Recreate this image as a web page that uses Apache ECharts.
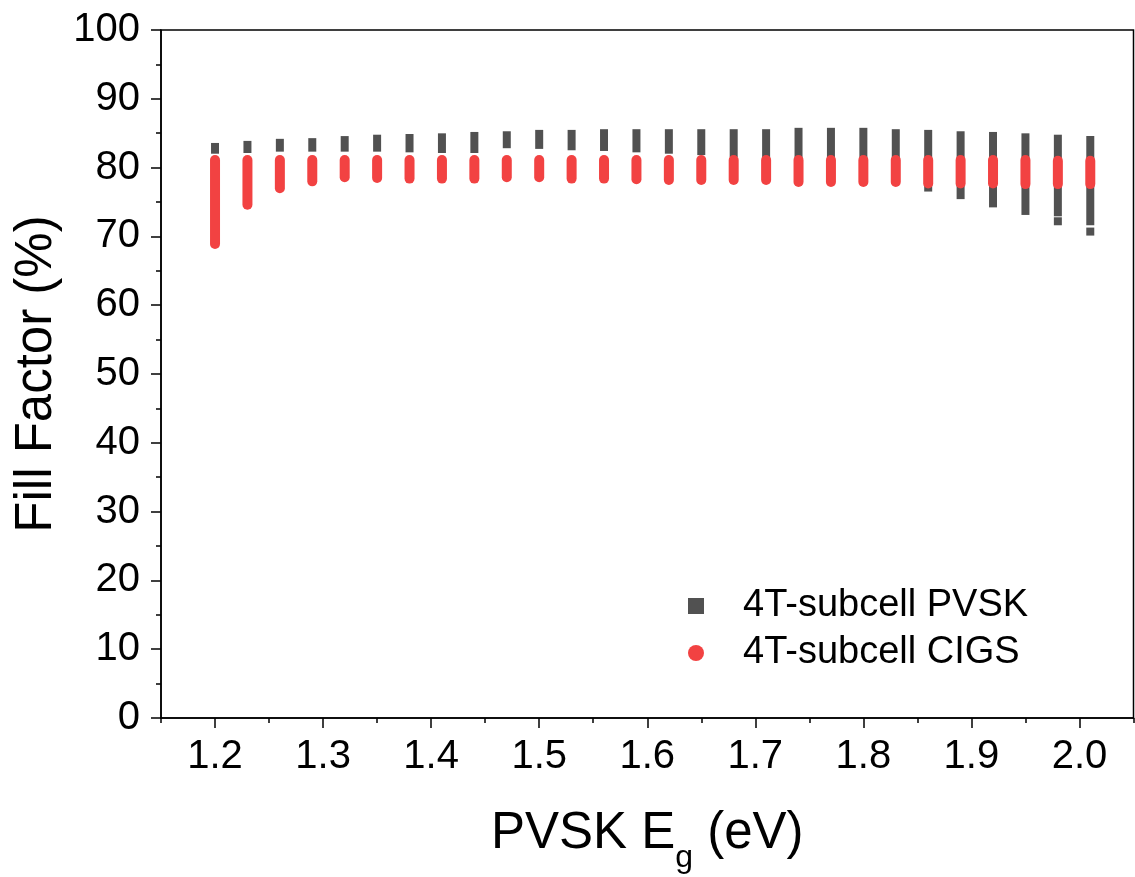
<!DOCTYPE html>
<html>
<head>
<meta charset="utf-8">
<title>Fill Factor vs PVSK Eg</title>
<script src="https://cdn.jsdelivr.net/npm/echarts@6/dist/echarts.min.js"></script>
<style>
  html, body { margin: 0; padding: 0; background: #ffffff; }
  #chart { width: 1135px; height: 877px; }
</style>
</head>
<body>
<div id="chart"></div>
<script>
// Perovskite band gap (eV) of each simulated device column
const bandgaps = [1.20, 1.23, 1.26, 1.29, 1.32, 1.35, 1.38, 1.41, 1.44, 1.47,
                  1.50, 1.53, 1.56, 1.59, 1.62, 1.65, 1.68, 1.71, 1.74, 1.77,
                  1.80, 1.83, 1.86, 1.89, 1.92, 1.95, 1.98, 2.01];

// 4T perovskite subcell fill factor spread (%), highest and lowest point per column
const pvskHigh = [83.0, 83.3, 83.6, 83.7, 84.0, 84.2, 84.3, 84.4, 84.6, 84.7,
                  84.9, 84.9, 85.0, 85.0, 85.0, 85.0, 85.0, 85.0, 85.2, 85.2,
                  85.2, 85.0, 84.9, 84.7, 84.6, 84.4, 84.2, 84.0];
const pvskLow  = [82.6, 82.7, 82.9, 82.9, 82.9, 82.9, 82.8, 82.7, 82.7, 83.4,
                  83.3, 83.1, 83.0, 82.8, 82.6, 82.4, 82.1, 81.6, 80.9, 80.1,
                  79.2, 78.2, 77.1, 76.0, 74.8, 73.7, 73.5, 72.2];
// isolated low points below the main perovskite stacks: [Eg, FF]
const pvskIsolated = [[1.98, 72.2], [2.01, 70.7]];

// 4T CIGS subcell fill factor spread (%)
const cigsHigh = [81.1, 81.1, 81.1, 81.1, 81.1, 81.1, 81.1, 81.1, 81.1, 81.1,
                  81.1, 81.1, 81.1, 81.1, 81.1, 81.1, 81.1, 81.1, 81.1, 81.1,
                  81.1, 81.1, 81.1, 81.1, 81.1, 81.1, 81.0, 81.0];
const cigsLow  = [68.9, 74.6, 77.0, 78.0, 78.6, 78.5, 78.4, 78.4, 78.4, 78.6,
                  78.6, 78.4, 78.4, 78.3, 78.2, 78.2, 78.2, 78.2, 77.9, 77.9,
                  77.9, 77.9, 77.7, 77.7, 77.7, 77.6, 77.6, 77.6];

// axis tick labels
const xTickValues = [1.2, 1.3, 1.4, 1.5, 1.6, 1.7, 1.8, 1.9, 2.0];
const yTicks = { min: 0, max: 100, step: 10 };

const seriesNames = ['4T-subcell PVSK', '4T-subcell CIGS'];
const pvskColor = '#515151';
const cigsColor = '#f24242';

const pvskRows = bandgaps.map((x, i) => [x, pvskLow[i], pvskHigh[i]]);
const cigsRows = bandgaps.map((x, i) => [x, cigsLow[i], cigsHigh[i]]);

// A stack of markers at one x is drawn as one column spanning its lowest to highest
// point, padded by half a marker so the ends sit where the end markers would.
function stackRenderer(halfWidth, pad, radius) {
  return function (params, api) {
    const x = api.value(0);
    const top = api.coord([x, api.value(2)]);
    const bot = api.coord([x, api.value(1)]);
    return {
      type: 'rect',
      shape: {
        x: top[0] - halfWidth,
        y: top[1] - pad,
        width: halfWidth * 2,
        height: bot[1] - top[1] + pad * 2,
        r: radius
      },
      style: api.style()
    };
  };
}

const chart = echarts.init(document.getElementById('chart'), null, { renderer: 'canvas' });
const font = 'Liberation Sans, Arial, Helvetica, sans-serif';

chart.setOption({
  animation: false,
  backgroundColor: '#ffffff',
  textStyle: { fontFamily: font, color: '#000' },
  grid: {
    left: 161, right: 1.5, top: 30, bottom: 159,
    outerBoundsMode: 'none', containLabel: false,
    show: true, borderColor: '#000', borderWidth: 1.5, backgroundColor: 'transparent'
  },
  legend: {
    orient: 'vertical',
    left: 683, top: 582,
    itemWidth: 16, itemHeight: 16, itemGap: 9,
    textStyle: { fontSize: 38, color: '#000', fontFamily: font, padding: [0, 0, 0, 34] },
    data: [
      { name: seriesNames[0], icon: 'rect' },
      { name: seriesNames[1], icon: 'circle' }
    ]
  },
  xAxis: [
    {
      type: 'value', min: 1.15, max: 2.05, position: 'bottom',
      axisLine: { show: true, onZero: false, lineStyle: { color: '#000', width: 1.5 } },
      axisTick: { show: true, inside: false, length: 10, customValues: xTickValues,
                  lineStyle: { color: '#000', width: 1.5 } },
      axisLabel: { customValues: xTickValues, fontSize: 40, margin: 19, color: '#000',
                   fontFamily: font, formatter: v => v.toFixed(1) },
      splitLine: { show: false },
      // the empty "h" token only sets the line height so the subscript can sit low
      name: '{m|PVSK E}{s|g}{m| (eV)}{h|\u200b}',
      nameLocation: 'middle', nameGap: 90,
      nameTextStyle: {
        fontFamily: font, color: '#000',
        rich: {
          m: { fontSize: 51, fontFamily: font, color: '#000', verticalAlign: 'top', lineHeight: 56 },
          s: { fontSize: 32, fontFamily: font, color: '#000', verticalAlign: 'bottom', lineHeight: 32 },
          h: { fontSize: 1, lineHeight: 66, verticalAlign: 'top' }
        }
      }
    },
    {
      // minor ticks every 0.05 eV
      type: 'value', min: 1.15, max: 2.05, interval: 0.05, position: 'bottom',
      axisLine: { show: false, onZero: false },
      axisTick: { show: true, inside: false, length: 5, lineStyle: { color: '#000', width: 1.5 } },
      axisLabel: { show: false },
      splitLine: { show: false }
    }
  ],
  yAxis: {
    type: 'value', min: yTicks.min, max: yTicks.max, interval: yTicks.step,
    axisLine: { show: true, onZero: false, lineStyle: { color: '#000', width: 1.5 } },
    axisTick: { show: true, inside: false, length: 10, lineStyle: { color: '#000', width: 1.5 } },
    minorTick: { show: true, splitNumber: 2, length: 5, lineStyle: { color: '#000', width: 1.5 } },
    axisLabel: { fontSize: 40, margin: 21, color: '#000', fontFamily: font },
    splitLine: { show: false },
    name: 'Fill Factor (%)',
    nameLocation: 'middle', nameGap: 98,
    nameTextStyle: { fontSize: 51, fontFamily: font, color: '#000' }
  },
  series: [
    {
      name: seriesNames[0], type: 'custom', xAxisIndex: 0,
      renderItem: stackRenderer(4, 4, 0),
      itemStyle: { color: pvskColor },
      encode: { x: 0, y: [1, 2] },
      data: pvskRows, z: 2
    },
    {
      name: seriesNames[0], type: 'scatter', xAxisIndex: 0,
      symbol: 'rect', symbolSize: 8,
      itemStyle: { color: pvskColor, opacity: 1 },
      data: pvskIsolated, z: 2
    },
    {
      name: seriesNames[1], type: 'custom', xAxisIndex: 0,
      renderItem: stackRenderer(5, 5, 5),
      itemStyle: { color: cigsColor },
      encode: { x: 0, y: [1, 2] },
      data: cigsRows, z: 3
    }
  ]
});
</script>
</body>
</html>
